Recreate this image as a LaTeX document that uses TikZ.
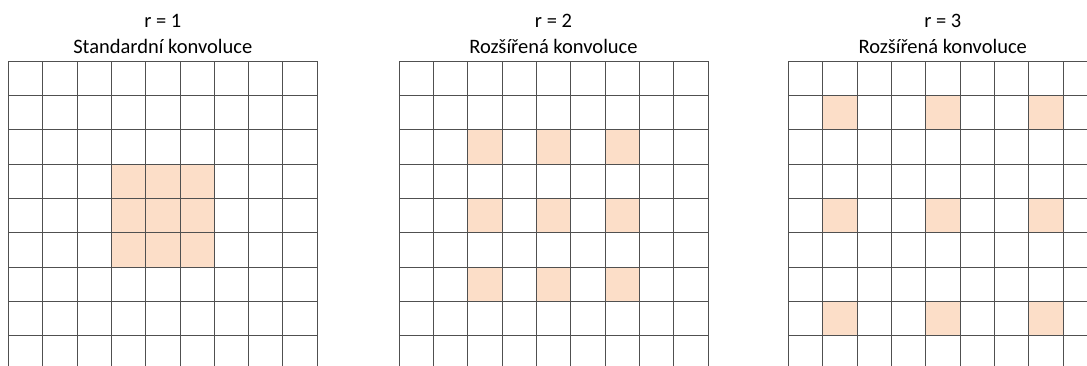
\documentclass[tikz,border=0pt]{standalone}
\usepackage{fontspec}
\setmainfont{Carlito}
\usetikzlibrary{positioning}
\definecolor{peach}{RGB}{252,222,200}
\definecolor{gridgray}{RGB}{80,80,80}

\begin{document}
\begin{tikzpicture}[x=1pt,y=-1pt,
    gridline/.style={draw=gridgray,line width=0.9pt},
    hit/.style={fill=peach},
    title/.style={font=\fontsize{20.5}{24}\selectfont,anchor=base,inner sep=0pt}]
  \useasboundingbox (0,0) rectangle (1087,365);
  \clip (0,0) rectangle (1087,365);
  \def\s{34.33}
  % one panel per dilation rate: left edge / rate / name / caption
  \foreach \x/\r/\name/\lbl in {8.3/1/std/Standardní konvoluce,
                                399/2/dila/Rozšířená konvoluce,
                                788.3/3/dilb/Rozšířená konvoluce}{
    % kernel taps
    \foreach \i in {0,1,2}
      \foreach \j in {0,1,2}
        \fill[hit] ({\x+(4-\r+\i*\r)*\s},{61+(4-\r+\j*\r)*\s}) rectangle ++(\s,\s);
    % 9x9 grid
    \foreach \c in {0,...,9}
      \draw[gridline] ({\x+\c*\s},61) -- ++(0,310);
    \foreach \k in {0,...,8}
      \draw[gridline] (\x,{61+\k*\s}) -- ++({9*\s},0);
    \node[title] (rate\r) at ({\x+4.5*\s},27) {r = \r};
    \node[title] (\name) at ({\x+4.5*\s},53.5) {\lbl};
  }
\end{tikzpicture}
\end{document}
